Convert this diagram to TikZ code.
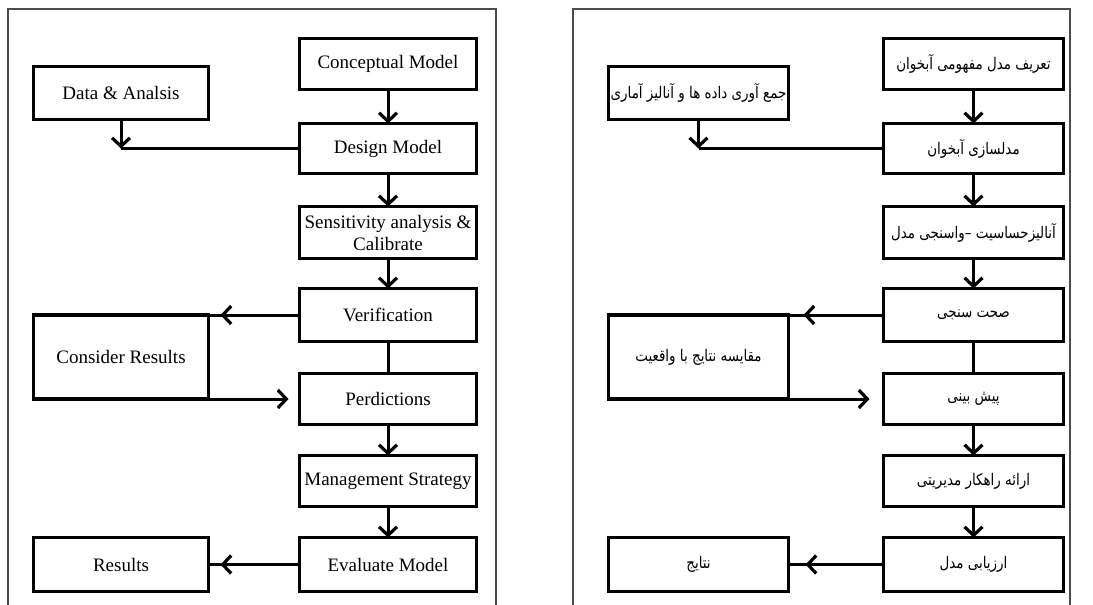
\documentclass[tikz,border=0pt]{standalone}
\usepackage{fontspec}
\setmainfont{Liberation Serif}
\newfontfamily\fafont[Script=Arabic,FakeStretch=0.84]{DejaVu Sans}
\TeXXeTstate=1
\usetikzlibrary{arrows.meta,calc}
\newcommand\fatext[1]{{\fafont\fontsize{16}{19}\selectfont\beginR #1\endR}}
\begin{document}
\begin{tikzpicture}[x=1pt,y=-1pt,
  box/.style={draw=black,line width=3.2pt,rectangle,inner sep=1pt,outer sep=0pt,align=center,
    minimum width=177pt,font=\fontsize{19}{22}\selectfont},
  conn/.style={line width=3pt,draw=black},
  arr/.style={conn,-{Straight Barb[length=8.5pt,width=18pt,line width=3.2pt]}},
  frame/.style={line width=1.3pt,draw=black!70}]
\useasboundingbox (0,0) rectangle (1093,605);
\fill[white] (0,0) rectangle (1093,605);
% frames
\draw[frame] (8,612) -- (8,9) -- (496,9) -- (496,612);
\draw[frame] (573,612) -- (573,9) -- (1070,9) -- (1070,612);

% ---------- left panel ----------
\node[box,minimum height=51pt] (Lconcept) at (388,64) {Conceptual Model};
\node[box,minimum height=53pt,minimum width=175pt] (Ldata) at (121,93) {Data \& Analsis};
\node[box,minimum height=50pt] (Ldesign) at (388,148.5) {Design Model};
\node[box,minimum height=52pt] (Lsens) at (388,232.5) {Sensitivity analysis \&\\Calibrate};
\node[box,minimum height=53pt] (Lverif) at (388,315) {Verification};
\node[box,minimum height=84pt,minimum width=175pt] (Lconsider) at (121,357) {Consider Results};
\node[box,minimum height=51pt] (Lpred) at (388,399) {Perdictions};
\node[box,minimum height=51pt] (Lmanage) at (388,481) {Management Strategy};
\node[box,minimum height=54pt] (Leval) at (388,564.5) {Evaluate Model};
\node[box,minimum height=54pt,minimum width=175pt] (Lresults) at (121,564.5) {Results};

\coordinate (Lcorner) at (Ldata.south |- Ldesign.west);
\coordinate (LvEnd) at (Lverif.west -| Lconsider.east);
\coordinate (LvTip) at ($(LvEnd)+(12,0)$);
\coordinate (LpTip) at ($(Lpred.west)+(-11,0)$);
\coordinate (LrTip) at ($(Lresults.east)+(12,0)$);

\draw[arr] (Lconcept) -- (Ldesign);
\draw[conn] (Ldesign.west) -- (Lcorner);
\draw[arr] (Ldata) -- (Lcorner);
\draw[arr] (Ldesign) -- (Lsens);
\draw[arr] (Lsens) -- (Lverif);
\draw[conn] (Lverif.west) -- (LvEnd);
\draw[arr] (Lverif.west) -- (LvTip);
\draw[conn] (Lverif) -- (Lpred);
\draw[arr] (Lconsider.south east) -- (LpTip);
\draw[arr] (Lpred) -- (Lmanage);
\draw[arr] (Lmanage) -- (Leval);
\draw[conn] (Leval.west) -- (Lresults.east);
\draw[arr] (Leval.west) -- (LrTip);

% ---------- right panel ----------
\node[box,minimum height=51pt,minimum width=180pt] (Rconcept) at (973.5,64) {\fatext{تعریف مدل مفهومی آبخوان}};
\node[box,minimum height=53pt,minimum width=180pt] (Rdata) at (698.5,93) {\fatext{جمع آوری داده ها و آنالیز آماری}};
\node[box,minimum height=50pt,minimum width=180pt] (Rdesign) at (973.5,148.5) {\fatext{مدلسازی آبخوان}};
\node[box,minimum height=52pt,minimum width=180pt] (Rsens) at (973.5,232.5) {\fatext{آنالیزحساسیت –واسنجی مدل}};
\node[box,minimum height=53pt,minimum width=180pt] (Rverif) at (973.5,315) {\fatext{صحت سنجی}};
\node[box,minimum height=84pt,minimum width=180pt] (Rconsider) at (698.5,357) {\fatext{مقایسه نتایج با واقعیت}};
\node[box,minimum height=51pt,minimum width=180pt] (Rpred) at (973.5,399) {\fatext{پیش بینی}};
\node[box,minimum height=51pt,minimum width=180pt] (Rmanage) at (973.5,481) {\fatext{ارائه راهکار مدیریتی}};
\node[box,minimum height=54pt,minimum width=180pt] (Reval) at (973.5,564.5) {\fatext{ارزیابی مدل}};
\node[box,minimum height=54pt,minimum width=180pt] (Rresults) at (698.5,564.5) {\fatext{نتایج}};

\coordinate (Rcorner) at (Rdata.south |- Rdesign.west);
\coordinate (RvEnd) at (Rverif.west -| Rconsider.east);
\coordinate (RvTip) at ($(RvEnd)+(15,0)$);
\coordinate (RpTip) at ($(Rpred.west)+(-14,0)$);
\coordinate (RrTip) at ($(Rresults.east)+(17,0)$);

\draw[arr] (Rconcept) -- (Rdesign);
\draw[conn] (Rdesign.west) -- (Rcorner);
\draw[arr] (Rdata) -- (Rcorner);
\draw[arr] (Rdesign) -- (Rsens);
\draw[arr] (Rsens) -- (Rverif);
\draw[conn] (Rverif.west) -- (RvEnd);
\draw[arr] (Rverif.west) -- (RvTip);
\draw[conn] (Rverif) -- (Rpred);
\draw[arr] (Rconsider.south east) -- (RpTip);
\draw[arr] (Rpred) -- (Rmanage);
\draw[arr] (Rmanage) -- (Reval);
\draw[conn] (Reval.west) -- (Rresults.east);
\draw[arr] (Reval.west) -- (RrTip);
\end{tikzpicture}
\end{document}
